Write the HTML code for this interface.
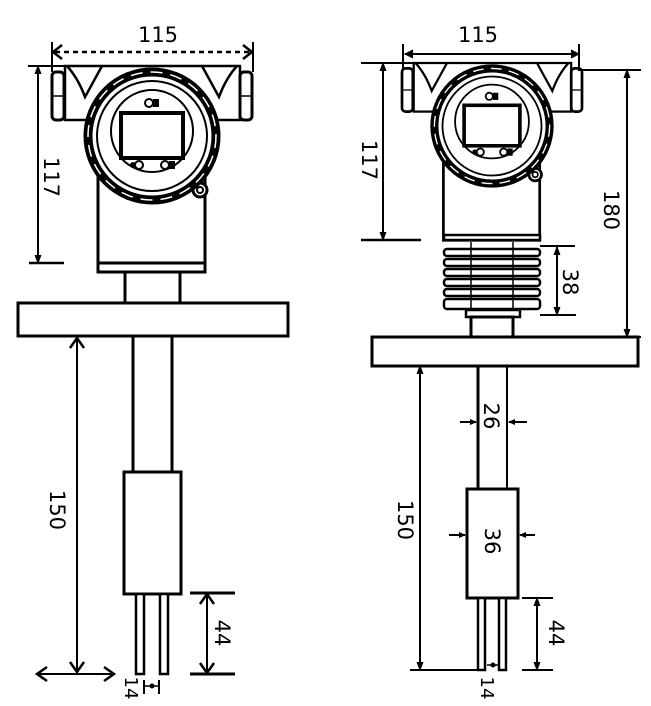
<!DOCTYPE html>
<html><head><meta charset="utf-8"><style>
html,body{margin:0;padding:0;background:#fff}
svg{display:block}
text{font-family:"DejaVu Sans","Liberation Sans",sans-serif;font-size:21px;fill:#000}
</style></head><body>
<svg width="651" height="706" viewBox="0 0 651 706" xmlns="http://www.w3.org/2000/svg">
<defs>
<g id="hs" fill="none" stroke="#000">
  <rect x="-87" y="-70" width="175" height="54" fill="#fff" stroke-width="2.5"/>
  <path d="M-85,-70 Q-74,-58 -67,-39 L-50,-70 M85,-70 Q74,-58 67,-39 L50,-70" stroke-width="2.5"/>
  <rect x="-100" y="-64" width="12" height="48" rx="4" fill="#fff" stroke-width="3"/>
  <rect x="88" y="-64" width="12" height="48" rx="4" fill="#fff" stroke-width="3"/>
  <path d="M-100,-40 H-88 M88,-40 H100" stroke-width="1.5"/>
  <rect x="-54" y="0" width="107" height="127" fill="#fff" stroke-width="3"/>
  <circle cx="48" cy="54" r="7" fill="#fff" stroke-width="3"/>
  <circle cx="48" cy="54" r="3" stroke-width="2"/>
  <circle cx="0" cy="0" r="64" fill="#fff" stroke-width="9"/>
  <circle cx="0" cy="0" r="64" stroke="#fff" stroke-width="1.5" stroke-dasharray="12 8"/>
  <circle cx="0" cy="0" r="55" stroke-width="2"/>
  <circle cx="0" cy="-5" r="41" stroke-width="2"/>
  <rect x="-31" y="-23" width="62" height="45" stroke-width="4"/>
  <circle cx="-13" cy="29" r="4" stroke-width="2"/>
  <circle cx="-19" cy="29" r="3" fill="#000" stroke="none"/>
  <circle cx="13" cy="29" r="4" stroke-width="2"/>
  <rect x="17" y="25" width="6" height="8" fill="#000" stroke="none"/>
  <circle cx="-3" cy="-33" r="4" stroke-width="2"/>
  <rect x="1" y="-37" width="6" height="8" fill="#000" stroke="none"/>
</g>
</defs>

<!-- LEFT DEVICE -->
<text x="158" y="42" text-anchor="middle">115</text>
<line x1="55" y1="52" x2="250" y2="52" stroke="#000" stroke-width="2.5" stroke-dasharray="5 4"/>
<path d="M62,45 L53,52 L62,59 M243,45 L252,52 L243,59" fill="none" stroke="#000" stroke-width="2.5"/>
<line x1="52" y1="42" x2="52" y2="72" stroke="#000" stroke-width="2"/>
<line x1="253" y1="42" x2="253" y2="72" stroke="#000" stroke-width="2"/>
<line x1="28" y1="66" x2="90" y2="66" stroke="#000" stroke-width="2"/>
<line x1="38" y1="66" x2="38" y2="263" stroke="#000" stroke-width="2"/>
<path d="M35,74 L38,66 L41,74 M35,255 L38,263 L41,255" fill="#000" stroke="#000"/>
<line x1="29" y1="263" x2="64" y2="263" stroke="#000" stroke-width="2.5"/>
<text transform="translate(44,177) rotate(90)" text-anchor="middle">117</text>

<g transform="translate(152,136)"><use href="#hs"/></g>
<rect x="98" y="263" width="107" height="9" fill="#fff" stroke="#000" stroke-width="3"/>
<rect x="125" y="272" width="55" height="31" fill="#fff" stroke="#000" stroke-width="3"/>
<rect x="18" y="303" width="270" height="33" fill="#fff" stroke="#000" stroke-width="3"/>
<line x1="133" y1="336" x2="133" y2="472" stroke="#000" stroke-width="3"/>
<line x1="172" y1="336" x2="172" y2="472" stroke="#000" stroke-width="3"/>
<rect x="124" y="472" width="57" height="122" fill="#fff" stroke="#000" stroke-width="3"/>
<rect x="136" y="594" width="8" height="80" fill="#fff" stroke="#000" stroke-width="2.5"/>
<rect x="160" y="594" width="8" height="80" fill="#fff" stroke="#000" stroke-width="2.5"/>

<line x1="77" y1="337" x2="77" y2="673" stroke="#000" stroke-width="2"/>
<path d="M70,348 L77,338 L84,348 M70,662 L77,672 L84,662" fill="none" stroke="#000" stroke-width="2.5"/>
<line x1="37" y1="674" x2="114" y2="674" stroke="#000" stroke-width="2"/>
<path d="M47,667 L37,674 L47,681 M104,667 L114,674 L104,681" fill="none" stroke="#000" stroke-width="2.5"/>
<text transform="translate(50,510) rotate(90)" text-anchor="middle">150</text>

<line x1="190" y1="593" x2="235" y2="593" stroke="#000" stroke-width="3"/>
<line x1="190" y1="674" x2="235" y2="674" stroke="#000" stroke-width="3"/>
<line x1="207" y1="594" x2="207" y2="673" stroke="#000" stroke-width="2"/>
<path d="M200,604 L207,594 L214,604 M200,663 L207,673 L214,663" fill="none" stroke="#000" stroke-width="2.5"/>
<text transform="translate(215,633) rotate(90)" text-anchor="middle">44</text>

<line x1="145" y1="686" x2="159" y2="686" stroke="#000" stroke-width="1.5"/>
<line x1="159" y1="680" x2="159" y2="694" stroke="#000" stroke-width="2"/>
<line x1="144" y1="680" x2="144" y2="694" stroke="#000" stroke-width="2"/>
<circle cx="152" cy="686" r="2.5" fill="#000"/>
<text transform="translate(125,688) rotate(90)" text-anchor="middle" style="font-size:18px">14</text>

<!-- RIGHT DEVICE -->
<text x="478" y="42" text-anchor="middle">115</text>
<line x1="405" y1="54" x2="579" y2="54" stroke="#000" stroke-width="2"/>
<path d="M413,50 L405,54 L413,58 M571,50 L579,54 L571,58" fill="#000" stroke="#000"/>
<line x1="403" y1="44" x2="403" y2="70" stroke="#000" stroke-width="2"/>
<line x1="579" y1="44" x2="579" y2="70" stroke="#000" stroke-width="2"/>
<line x1="361" y1="63" x2="440" y2="63" stroke="#000" stroke-width="2"/>
<line x1="383" y1="63" x2="383" y2="240" stroke="#000" stroke-width="2"/>
<path d="M380,71 L383,63 L386,71 M380,232 L383,240 L386,232" fill="#000" stroke="#000"/>
<line x1="361" y1="240" x2="421" y2="240" stroke="#000" stroke-width="2.5"/>
<text transform="translate(362,160) rotate(90)" text-anchor="middle">117</text>

<g transform="translate(492,126) scale(0.9)"><use href="#hs"/></g>
<rect x="444" y="235" width="96" height="5" fill="#fff" stroke="#000" stroke-width="2.5"/>
<line x1="540" y1="246" x2="575" y2="246" stroke="#000" stroke-width="2"/>
<g fill="#fff" stroke="#000" stroke-width="2.5">
<rect x="444" y="249" width="96" height="7" rx="3"/>
<rect x="444" y="259" width="96" height="7" rx="3"/>
<rect x="444" y="269" width="96" height="7" rx="3"/>
<rect x="444" y="279" width="96" height="7" rx="3"/>
<rect x="444" y="289" width="96" height="7" rx="3"/>
<rect x="444" y="299" width="96" height="10" rx="3"/>
</g>
<line x1="471" y1="242" x2="471" y2="309" stroke="#000" stroke-width="1.5"/>
<line x1="513" y1="242" x2="513" y2="309" stroke="#000" stroke-width="1.5"/>
<rect x="466" y="310" width="54" height="7" fill="#fff" stroke="#000" stroke-width="2.5"/>
<rect x="471" y="317" width="42" height="20" fill="#fff" stroke="#000" stroke-width="3"/>
<line x1="557" y1="247" x2="557" y2="315" stroke="#000" stroke-width="2"/>
<path d="M554,255 L557,247 L560,255 M554,307 L557,315 L560,307" fill="#000" stroke="#000"/>
<line x1="540" y1="315" x2="576" y2="315" stroke="#000" stroke-width="2"/>
<text transform="translate(563,282) rotate(90)" text-anchor="middle">38</text>

<line x1="578" y1="70" x2="641" y2="70" stroke="#000" stroke-width="2"/>
<line x1="627" y1="70" x2="627" y2="337" stroke="#000" stroke-width="2"/>
<path d="M624,78 L627,70 L630,78 M624,329 L627,337 L630,329" fill="#000" stroke="#000"/>
<line x1="610" y1="337" x2="641" y2="337" stroke="#000" stroke-width="2"/>
<text transform="translate(604,210) rotate(90)" text-anchor="middle">180</text>

<rect x="372" y="337" width="266" height="29" fill="#fff" stroke="#000" stroke-width="3"/>
<line x1="478" y1="366" x2="478" y2="489" stroke="#000" stroke-width="3"/>
<line x1="507" y1="366" x2="507" y2="489" stroke="#000" stroke-width="2"/>
<rect x="467" y="489" width="51" height="109" fill="#fff" stroke="#000" stroke-width="3"/>
<rect x="478" y="598" width="7" height="72" fill="#fff" stroke="#000" stroke-width="2.5"/>
<rect x="499" y="598" width="7" height="72" fill="#fff" stroke="#000" stroke-width="2.5"/>

<line x1="420" y1="366" x2="420" y2="670" stroke="#000" stroke-width="2"/>
<path d="M417,374 L420,366 L423,374 M417,662 L420,670 L423,662" fill="#000" stroke="#000"/>
<line x1="410" y1="670" x2="480" y2="670" stroke="#000" stroke-width="2"/>
<text transform="translate(398,520) rotate(90)" text-anchor="middle">150</text>

<line x1="460" y1="422" x2="476" y2="422" stroke="#000" stroke-width="2"/>
<path d="M470,419 L477,422 L470,425 Z" fill="#000"/>
<line x1="509" y1="422" x2="527" y2="422" stroke="#000" stroke-width="2"/>
<path d="M515,419 L508,422 L515,425 Z" fill="#000"/>
<text transform="translate(484,416) rotate(90)" text-anchor="middle">26</text>

<line x1="449" y1="535" x2="465" y2="535" stroke="#000" stroke-width="2"/>
<path d="M459,532 L466,535 L459,538 Z" fill="#000"/>
<line x1="520" y1="535" x2="535" y2="535" stroke="#000" stroke-width="2"/>
<path d="M526,532 L519,535 L526,538 Z" fill="#000"/>
<text transform="translate(485,541) rotate(90)" text-anchor="middle">36</text>

<line x1="522" y1="598" x2="553" y2="598" stroke="#000" stroke-width="2"/>
<line x1="522" y1="670" x2="553" y2="670" stroke="#000" stroke-width="2"/>
<line x1="537" y1="598" x2="537" y2="670" stroke="#000" stroke-width="2"/>
<path d="M534,606 L537,598 L540,606 M534,662 L537,670 L540,662" fill="#000" stroke="#000"/>
<text transform="translate(549,633) rotate(90)" text-anchor="middle">44</text>

<line x1="487" y1="665" x2="498" y2="665" stroke="#000" stroke-width="1.5"/>
<circle cx="493" cy="665" r="2.5" fill="#000"/>
<text transform="translate(481,688) rotate(90)" text-anchor="middle" style="font-size:18px">14</text>
</svg>
</body></html>
